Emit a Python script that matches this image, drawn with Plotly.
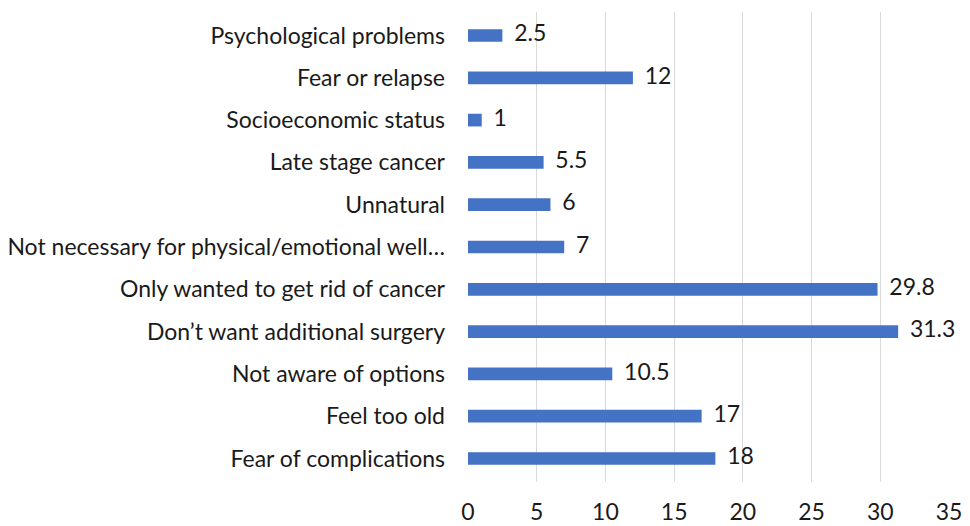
import plotly.graph_objects as go

categories = [
    "Fear of complications",
    "Feel too old",
    "Not aware of options",
    "Don’t want additional surgery",
    "Only wanted to get rid of cancer",
    "Not necessary for physical/emotional well…",
    "Unnatural",
    "Late stage cancer",
    "Socioeconomic status",
    "Fear or relapse",
    "Psychological problems",
]
values = [18, 17, 10.5, 31.3, 29.8, 7, 6, 5.5, 1, 12, 2.5]
x_ticks = [0, 5, 10, 15, 20, 25, 30, 35]

FONT = "Lato, Carlito, Calibri, sans-serif"
FS = 23
TXT = "#1a1a1a"

fig = go.Figure()
fig.add_trace(go.Bar(
    y=categories,
    x=values,
    orientation="h",
    marker=dict(color="#4472C4", line=dict(width=0)),
    width=0.3,
    hoverinfo="x+y",
))
fig.add_trace(go.Scatter(
    y=categories,
    x=values,
    mode="text",
    text=[f"{v:g}" for v in values],
    texttemplate="  %{text}",
    textposition="middle right",
    textfont=dict(family=FONT, size=FS, color=TXT),
    cliponaxis=False,
    hoverinfo="skip",
))

fig.update_layout(
    width=962,
    height=518,
    margin=dict(l=460, r=21, t=4, b=44),
    paper_bgcolor="white",
    plot_bgcolor="white",
    showlegend=False,
    font=dict(family=FONT, size=FS, color=TXT),
)
fig.update_xaxes(
    range=[0, 35],
    tickvals=x_ticks,
    showgrid=True,
    gridcolor="#d9d9d9",
    gridwidth=1,
    zeroline=False,
    showline=False,
    ticks="",
    automargin=False,
    ticklabelstandoff=14,
    tickfont=dict(family=FONT, size=FS, color=TXT),
)
fig.update_yaxes(
    categoryorder="array",
    categoryarray=categories,
    showgrid=False,
    zeroline=False,
    showline=False,
    ticks="",
    automargin=False,
    ticklabelstandoff=22,
    tickfont=dict(family=FONT, size=FS, color=TXT),
)

fig.write_html("out.html")
